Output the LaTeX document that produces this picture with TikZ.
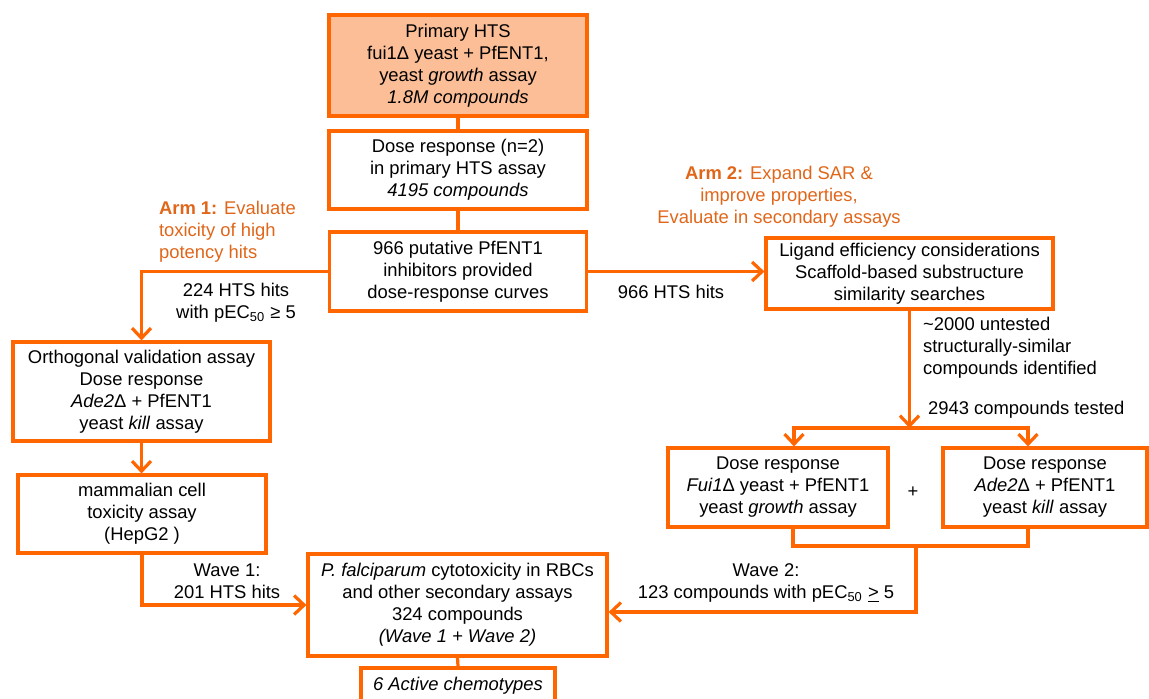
\documentclass[tikz,border=0pt]{standalone}
\usepackage{fontspec}
\setmainfont{Liberation Sans}
\usetikzlibrary{arrows.meta}
\definecolor{hitorange}{HTML}{FF6600}
\definecolor{armorange}{HTML}{E0661A}
\definecolor{peach}{HTML}{FCBE96}

\begin{document}
\begin{tikzpicture}[x=0.5pt,y=-0.5pt,font=\fontsize{9.2}{11}\selectfont]

\clip (0,0) rectangle (1149,698);

\tikzstyle {etape} = [draw=hitorange, line width=1.6pt, align=center, inner sep=0pt];
\tikzstyle {lien} = [draw=hitorange, line width=1.6pt];
\tikzstyle {fleche} = [lien, -{Straight Barb[length=5pt,width=9.5pt]}];

%central column:
\node[etape, fill=peach, minimum width=129pt, minimum height=50.5pt] (hts) at (458,65.5)
  {Primary HTS\\ fui1Δ yeast + PfENT1,\\ yeast \textit{growth} assay\\ \textit{1.8M compounds}};
\node[etape, minimum width=129pt, minimum height=39pt] (dose) at (458,170)
  {Dose response (n=2)\\ in primary HTS assay\\ \textit{4195 compounds}};
\node[etape, minimum width=128.5pt, minimum height=39.5pt] (putative) at (458,271.5)
  {966 putative PfENT1\\ inhibitors provided\\ dose-response curves};
\node[etape, minimum width=149.5pt, minimum height=51pt] (pfalc) at (457.5,605)
  {\textit{P. falciparum} cytotoxicity in RBCs\\ and other secondary assays\\ 324 compounds\\ \textit{(Wave 1 + Wave 2)}};
\node[etape, minimum width=97pt, minimum height=18pt] (active) at (458,686)
  {\textit{6 Active chemotypes}};

%arm 1:
\node[etape, minimum width=128.5pt, minimum height=49.5pt] (ortho) at (141.5,391.5)
  {Orthogonal validation assay\\ Dose response\\ \textit{Ade2}Δ + PfENT1\\ yeast \textit{kill} assay};
\node[etape, minimum width=124pt, minimum height=39pt] (mammal) at (142,514)
  {mammalian cell\\ toxicity assay\\ (HepG2 )};

%arm 2:
\node[etape, minimum width=143.5pt, minimum height=35.5pt] (ligand) at (909.5,273.5)
  {Ligand efficiency considerations\\ Scaffold-based substructure\\ similarity searches};
\node[etape, minimum width=110pt, minimum height=39.5pt] (growth) at (778,487.5)
  {Dose response\\ \textit{Fui1}Δ yeast + PfENT1\\ yeast \textit{growth} assay};
\node[etape, minimum width=102pt, minimum height=39.5pt] (kill) at (1045,487.5)
  {Dose response\\ \textit{Ade2}Δ + PfENT1\\ yeast \textit{kill} assay};
\node (plus) at (913,492) {+};

%arm titles:
\node[anchor=west, align=left, text=armorange] (arm1) at (152,232)
  {\textbf{Arm 1:} Evaluate\\ toxicity of high\\ potency hits};
\node[align=center, text=armorange] (arm2) at (779,197)
  {\textbf{Arm 2:} Expand SAR \&\\ improve properties,\\ Evaluate in secondary assays};

%links:
\draw[lien] (hts.south) -- (dose.north);
\draw[lien] (dose.south) -- (putative.north);
\draw[lien] (pfalc.south) -- (active.north);

\draw[fleche] (putative.west) -| (ortho.north);
\draw[fleche] (ortho.south) -- (ortho.south |- mammal.north);
\draw[fleche] (mammal.south) |- (pfalc.west);
\draw[fleche] (putative.east) -- (putative.east -| ligand.west);

\coordinate (split) at (909.5,428);
\coordinate (join) at (916,546);
\draw[fleche] (ligand.south) -- (split);
\draw[fleche] (split) -| ([xshift=8pt]growth.north);
\draw[fleche] (split) -| ([xshift=-8.5pt]kill.north);
\draw[lien] ([xshift=7.5pt]growth.south) |- (join) -| ([xshift=-8.5pt]kill.south);
\draw[fleche] (join) |- ([yshift=-3.5pt]pfalc.east);

%labels:
\node[align=center] (l224) at (236,302.5) {224 HTS hits\\ with pEC\textsubscript{50} ≥ 5};
\node[align=center] (lwave1) at (227,581) {Wave 1:\\ 201 HTS hits};
\node (l966) at (671,292) {966 HTS hits};
\node[anchor=west, align=left] (l2000) at (916,348)
  {\textasciitilde 2000 untested\\ structurally-similar\\ compounds identified};
\node[anchor=west] (l2943) at (921,410) {2943 compounds tested};
\node[align=center] (lwave2) at (766,583)
  {Wave 2:\\ 123 compounds with pEC\textsubscript{50} \underline{>} 5};

\end{tikzpicture}
\end{document}
